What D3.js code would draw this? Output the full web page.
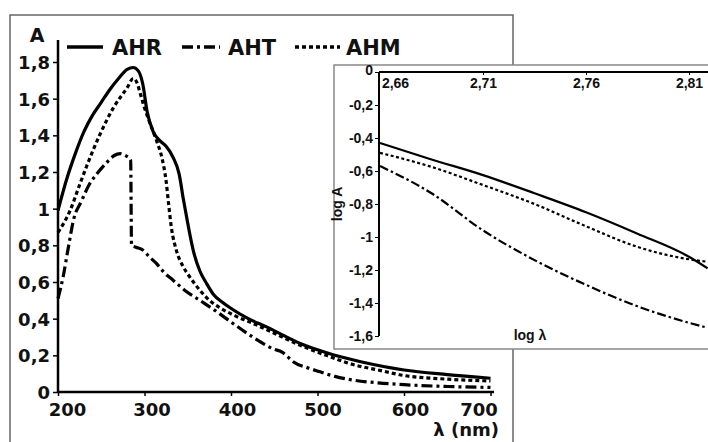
<!DOCTYPE html>
<html>
<head>
<meta charset="utf-8">
<script src="https://cdn.jsdelivr.net/npm/d3@7"></script>
<style>
  body { margin: 0; background: #fff; }
  svg { display: block; }
  .lbl { font-family: "DejaVu Sans", sans-serif; font-weight: bold; fill: #111; }
  .ilbl { font-family: "Liberation Sans", Arial, sans-serif; font-weight: bold; fill: #111; }
</style>
</head>
<body>
<div id="chart"></div>
<script>
// main spectra: [wavelength nm, absorbance]
const ahr = [[200,0.99],[210,1.16],[220,1.30],[230,1.42],[240,1.51],[250,1.58],[260,1.65],[270,1.71],[280,1.76],[287,1.77],[293,1.75],[298,1.68],[303,1.53],[310,1.42],[318,1.37],[325,1.34],[333,1.28],[340,1.19],[345,1.05],[350,0.92],[357,0.76],[364,0.66],[372,0.59],[380,0.53],[390,0.49],[402,0.45],[420,0.40],[441,0.355],[460,0.31],[480,0.265],[500,0.23],[520,0.20],[550,0.165],[600,0.12],[650,0.095],[700,0.075]];
const aht = [[200,0.51],[206,0.63],[212,0.79],[218,0.94],[227,1.04],[236,1.13],[245,1.19],[256,1.25],[265,1.29],[272,1.30],[278,1.29],[284,1.265],[285,0.80],[290,0.79],[298,0.775],[305,0.74],[314,0.70],[323,0.65],[333,0.61],[348,0.55],[364,0.50],[383,0.44],[402,0.375],[425,0.30],[449,0.235],[460,0.215],[466,0.19],[472,0.165],[490,0.13],[503,0.11],[520,0.085],[541,0.065],[570,0.05],[600,0.04],[650,0.03],[700,0.025]];
const ahm = [[200,0.87],[214,0.99],[225,1.13],[233,1.23],[249,1.41],[264,1.55],[280,1.66],[287,1.71],[291,1.69],[295,1.63],[300,1.55],[306,1.47],[314,1.37],[320,1.28],[325,1.15],[328,1.02],[331,0.90],[337,0.77],[344,0.69],[352,0.63],[364,0.555],[375,0.50],[387,0.46],[405,0.415],[425,0.375],[450,0.32],[480,0.255],[510,0.20],[541,0.15],[570,0.12],[600,0.09],[650,0.07],[700,0.06]];

const xTicks = [200, 300, 400, 500, 600, 700];
const yTicks = [0, 0.2, 0.4, 0.6, 0.8, 1, 1.2, 1.4, 1.6, 1.8];

// inset: log λ vs log A
const logLambda = [2.66, 2.685, 2.71, 2.735, 2.76, 2.785, 2.81, 2.819];
const logAhr = [-0.43, -0.53, -0.625, -0.735, -0.85, -0.98, -1.12, -1.19];
const logAht = [-0.57, -0.735, -0.96, -1.14, -1.29, -1.42, -1.52, -1.55];
const logAhm = [-0.49, -0.575, -0.685, -0.80, -0.935, -1.06, -1.135, -1.15];
const insetXTicks = [2.66, 2.71, 2.76, 2.81];
const insetYTicks = [0, -0.2, -0.4, -0.6, -0.8, -1, -1.2, -1.4, -1.6];

const series = [
    { name: "AHR", data: ahr, log: logAhr, dash: null, idash: null },
    { name: "AHT", data: aht, log: logAht, dash: "11,4,3,4", idash: "9,3,2.5,3" },
    { name: "AHM", data: ahm, log: logAhm, dash: "4,3", idash: "3,2.5" }
];

const fmt = v => String(+v.toFixed(2)).replace(".", ",");

const svg = d3.select("#chart").append("svg")
    .attr("width", 708)
    .attr("height", 442);

// outer frame
svg.append("path")
    .attr("d", "M10,460V15H513V460")
    .attr("fill", "none")
    .attr("stroke", "#666")
    .attr("stroke-width", 1.5);

const x = d3.scaleLinear().domain([200, 700]).range([58, 490.5]);
const y = d3.scaleLinear().domain([0, 1.8]).range([392, 62]);

const line = d3.line()
    .x(d => x(d[0]))
    .y(d => y(d[1]))
    .curve(d3.curveMonotoneX);

const plot = svg.append("g");
series.forEach(s => {
    plot.append("path")
        .datum(s.data)
        .attr("d", line)
        .attr("fill", "none")
        .attr("stroke", "#000")
        .attr("stroke-width", 3.2)
        .attr("stroke-dasharray", s.dash);
});

// axes
const xAxis = svg.append("g")
    .attr("transform", "translate(0,392)")
    .call(d3.axisBottom(x).tickValues(xTicks).tickSize(4).tickFormat(d3.format("d")));
xAxis.select(".domain").attr("d", "M58,0H494").attr("stroke-width", 2.5);
xAxis.selectAll(".tick line").attr("stroke-width", 1.5);
// labels in the original sit a little off their ticks
const xLabelShift = { 200: 9, 300: 7, 400: 6, 500: 5, 600: 6, 700: -12 };
xAxis.selectAll(".tick text").attr("class", "lbl").attr("font-size", 18)
    .attr("dy", "1.05em").attr("y", 5).attr("dx", d => xLabelShift[d]);

const yAxis = svg.append("g")
    .attr("transform", "translate(58,0)")
    .call(d3.axisLeft(y).tickValues(yTicks).tickSize(5).tickFormat(fmt));
yAxis.select(".domain").attr("d", "M0,40V392").attr("stroke-width", 2.5);
yAxis.selectAll(".tick line").attr("stroke-width", 1.5);
yAxis.selectAll(".tick text").attr("class", "lbl").attr("font-size", 18).attr("x", -8).attr("dy", "0.36em");

svg.append("text").attr("class", "lbl").attr("font-size", 19)
    .attr("x", 37).attr("y", 42).attr("text-anchor", "middle").text("A");
svg.append("text").attr("class", "lbl").attr("font-size", 18)
    .attr("x", 499).attr("y", 436).attr("text-anchor", "end").text("λ (nm)");

// legend
const legendPos = [[67, 103, 112], [182, 220, 228], [295, 340, 346]];
series.forEach((s, i) => {
    const p = legendPos[i];
    svg.append("line")
        .attr("x1", p[0]).attr("x2", p[1]).attr("y1", 47).attr("y2", 47)
        .attr("stroke", "#000").attr("stroke-width", 3.5)
        .attr("stroke-dasharray", s.dash);
    svg.append("text").attr("class", "lbl").attr("font-size", 21)
        .attr("x", p[2]).attr("y", 55).text(s.name);
});

// inset
svg.append("rect")
    .attr("x", 334).attr("y", 65).attr("width", 400).attr("height", 284)
    .attr("fill", "#fff").attr("stroke", "#888").attr("stroke-width", 1.5);

const ix = d3.scaleLinear().domain([2.66, 2.81]).range([380, 689]);
const iy = d3.scaleLinear().domain([0, -1.6]).range([72, 336]);

const iline = d3.line()
    .x((d, i) => ix(logLambda[i]))
    .y(d => iy(d))
    .curve(d3.curveMonotoneX);

series.forEach(s => {
    svg.append("path")
        .datum(s.log)
        .attr("d", iline)
        .attr("fill", "none")
        .attr("stroke", "#000")
        .attr("stroke-width", 2.2)
        .attr("stroke-dasharray", s.idash);
});

const ixAxis = svg.append("g")
    .attr("transform", "translate(0,72)")
    .call(d3.axisBottom(ix).tickValues(insetXTicks).tickSize(3).tickFormat(fmt));
ixAxis.select(".domain").attr("d", "M379,0H710").attr("stroke-width", 2);
ixAxis.selectAll(".tick text").attr("class", "ilbl").attr("font-size", 14).attr("y", 6)
    .attr("dx", (d, i) => i === 0 ? 15 : 0);
ixAxis.selectAll(".tick").filter(d => d === 2.66).select("line").remove();

const iyAxis = svg.append("g")
    .attr("transform", "translate(379,0)")
    .call(d3.axisLeft(iy).tickValues(insetYTicks).tickSize(4).tickFormat(fmt));
iyAxis.select(".domain").attr("d", "M0,72V336").attr("stroke-width", 2);
iyAxis.selectAll(".tick text").attr("class", "ilbl").attr("font-size", 14).attr("x", -6);
iyAxis.selectAll(".tick").filter(d => d === 0).select("text").attr("dy", "0.15em");

svg.append("text").attr("class", "ilbl").attr("font-size", 14)
    .attr("transform", "translate(342,204) rotate(-90)")
    .attr("text-anchor", "middle").text("log A");
svg.append("text").attr("class", "ilbl").attr("font-size", 14)
    .attr("x", 530).attr("y", 340).attr("text-anchor", "middle").text("log λ");
</script>
</body>
</html>
